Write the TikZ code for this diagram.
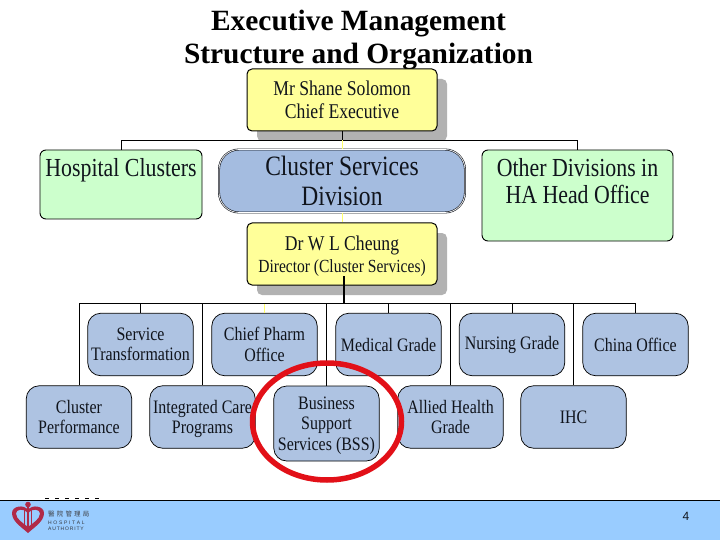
\documentclass[tikz,border=0pt]{standalone}
\usepackage{fontspec}
\setmainfont{Liberation Serif}
\newfontfamily\boxfont[FakeStretch=0.84]{Liberation Serif}
\newfontfamily\cjkfont{Noto Sans CJK TC}
\newfontfamily\sansf{Liberation Sans}
\usetikzlibrary{shapes.geometric}
\definecolor{yel}{HTML}{FFFF99}
\definecolor{grn}{HTML}{CCFFCC}
\definecolor{blu}{HTML}{AEC3E2}
\definecolor{csdblu}{HTML}{A4BCE0}
\definecolor{foot}{HTML}{99CCFF}
\definecolor{shade}{HTML}{B2B2B2}
\definecolor{ink}{HTML}{10141C}
\definecolor{logored}{HTML}{B02A48}
\newcommand{\fsz}[2]{\fontsize{#1}{#2}\selectfont}
\tikzset{
 x=1pt,y=-1pt,
 boxbase/.style={inner sep=0pt,align=center,text=ink},
 yellowbox/.style={boxbase,draw=black,line width=1pt,fill=yel,rounded corners=5pt,minimum width=190pt,minimum height=62pt},
 shadowbox/.style={fill=shade,rounded corners=5pt,minimum width=190pt,minimum height=62pt,inner sep=0pt},
 greenbox/.style={boxbase,draw=black,line width=.9pt,fill=grn,rounded corners=6pt},
 csdbox/.style={boxbase,draw=ink,double=white,double distance=.7pt,line width=.6pt,fill=csdblu,rounded corners=20pt},
 bluebox/.style={boxbase,draw=black,line width=.7pt,fill=blu,rounded corners=13pt,minimum width=105.5pt,minimum height=62.5pt,font=\boxfont\fsz{19}{20.5}},
 wire/.style={draw=black,line width=1pt},
 ywire/.style={draw=yel!70!yellow,line width=1pt},
 textonly/.style={inner sep=0pt,align=center,text=ink},
}
\begin{document}
\begin{tikzpicture}
\useasboundingbox (0,0) rectangle (720,540);
\fill[white] (0,0) rectangle (720,540);
% title
\node[inner sep=0pt,align=center,font=\bfseries\fsz{29.4}{33}] (title) at (358.5,40.5) {Executive Management\\Structure and Organization};
% shadows
\node[shadowbox] (ceoshadow) at (352,110) {};
\node[shadowbox] (drshadow) at (352,264) {};
% top boxes
\node[yellowbox,font=\boxfont\fsz{21}{23}] (ceo) at (342,100) {Mr Shane Solomon\\Chief Executive};
\node[greenbox,minimum width=162pt,minimum height=69pt] (hosp) at (121,184.5) {};
\node[textonly,font=\boxfont\fsz{26}{28}] (hosptext) at (121,170) {Hospital Clusters};
\node[csdbox,minimum width=246pt,minimum height=63pt,font=\boxfont\fsz{28}{30}] (csd) at (342,181) {Cluster Services\\Division};
\node[greenbox,minimum width=191pt,minimum height=91pt] (other) at (577.5,195.5) {};
\node[textonly,font=\boxfont\fsz{26}{27}] (othertext) at (577.5,181.5) {Other Divisions in\\HA Head Office};
\node[yellowbox,font=\boxfont\fsz{20}{22}] (dr) at (342,254) {{\fsz{21}{22}Dr W L Cheung}\\{\fsz{18.5}{22}\smash{Director (Cluster Services)}}};
% bus coordinates
\coordinate (bus1) at (342,140.5);
\coordinate (drout) at (344,276);
\coordinate (bus2) at (344,303.5);
% row 1
\node[bluebox] (st) at (140.5,344.5) {Service\\Transformation};
\node[bluebox] (cp) at (264.5,344.5) {Chief Pharm\\Office};
\node[bluebox] (mg) at (388.5,344.5) {Medical Grade};
\node[bluebox] (ng) at (512,344.5) {Nursing Grade\vphantom{Medical Grade}\rule[-1pt]{0pt}{1pt}};
\node[bluebox] (co) at (635.5,344.5) {China Office};
% row 2
\node[bluebox] (cl) at (79,417) {Cluster\\Performance};
\node[bluebox] (ic) at (202.5,417) {Integrated Care\\\smash{Programs}};
\node[bluebox,minimum height=75pt] (bss) at (326.5,423.5) {Business\\Support\\\smash{Services (BSS)}};
\node[bluebox] (ah) at (450.5,417) {Allied Health\\Grade};
\node[bluebox] (ihc) at (573.5,417) {IHC};
% connectors
\draw[wire] (ceo.south) -- (bus1);
\draw[wire] (hosp.north) |- (bus1) -| (other.north);
\draw[ywire] (bus1) -- (csd.north);
\draw[ywire] (csd.south) -- (dr.north);
\draw[wire,line width=1.2pt] (drout) -- (bus2);
\draw[wire] (cl.north) |- (bus2) -| (co.north);
\draw[wire] (st.north) -- (st.north |- bus2);
\draw[ywire] (cp.north) -- (cp.north |- bus2);
\draw[wire] (mg.north) -- (mg.north |- bus2);
\draw[wire] (ng.north) -- (ng.north |- bus2);
\draw[wire] (ic.north) -- (ic.north |- bus2);
\draw[wire] (bss.north) -- (bss.north |- bus2);
\draw[wire] (ah.north) -- (ah.north |- bus2);
\draw[wire] (ihc.north) -- (ihc.north |- bus2);
% red ring
\node[draw={rgb,255:red,226;green,16;blue,24},line width=5.5pt,ellipse,inner sep=0pt,minimum width=149pt,minimum height=117pt] (ring) at (327,421.5) {};
% footer
\fill[foot] (0,500) rectangle (720,540);
\draw[black,line width=1pt] (0,500.5) -- (720,500.5);
\draw[black,line width=1pt,dash pattern=on 4pt off 6pt] (45,498.5) -- (104,498.5);
% logo
\fill[logored,even odd rule] (28,533) .. controls (20,526) and (12,521) .. (12,513) .. controls (12,506) and (24,504) .. (28,510) .. controls (32,504) and (44,506) .. (44,513) .. controls (44,521) and (36,526) .. (28,533) -- cycle
 (28,527) .. controls (23,523) and (16,519) .. (16,513.5) .. controls (16,509) and (24,508) .. (28,513) .. controls (32,508) and (40,509) .. (40,513.5) .. controls (40,519) and (33,523) .. (28,527) -- cycle;
\fill[logored] (28,504.5) circle (2.8pt);
\draw[logored,line width=1.6pt] (24.5,510) -- (24.5,525);
\draw[logored,line width=1.6pt] (31.5,510) -- (31.5,525);
\draw[logored,line width=1.2pt] (28,507) -- (28,527);
\node[inner sep=0pt,font=\cjkfont\fsz{6.5}{7},text=ink!80,anchor=west] (logocn) at (48,514) {醫\,\,院\,\,管\,\,理\,\,局};
\node[inner sep=0pt,font=\sansf\fsz{5}{6},text=ink!85,anchor=west] (logoen1) at (48,522.5) {H\,\,O\,\,S\,\,P\,\,I\,\,T\,\,A\,\,L};
\node[inner sep=0pt,font=\sansf\fsz{5}{6},text=ink!85,anchor=west] (logoen2) at (48,528.5) {A\,U\,T\,H\,O\,R\,I\,T\,Y};
\node[inner sep=0pt,font=\sansf\fsz{12}{14},text=ink] (pageno) at (686,516) {4};
\end{tikzpicture}
\end{document}
